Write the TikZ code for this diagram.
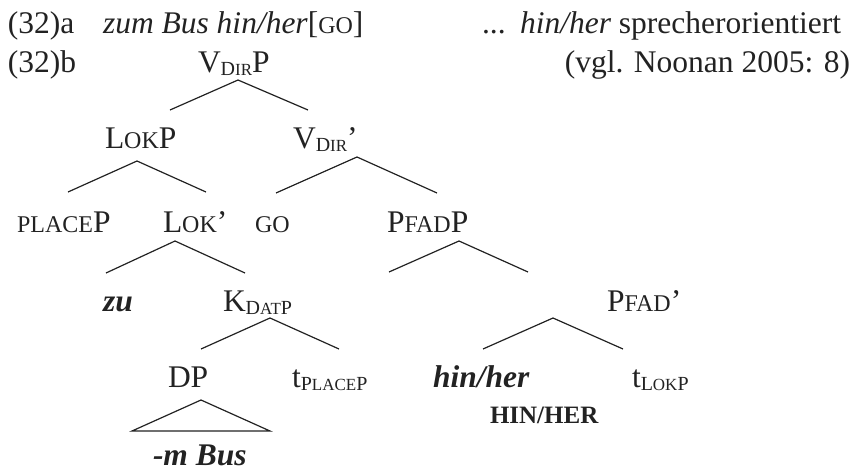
\documentclass[tikz,border=0pt]{standalone}
\usepackage{fontspec}
\setmainfont{Liberation Serif}
\usetikzlibrary{calc}
\definecolor{ink}{HTML}{222222}
% small capitals, faked with reduced capitals
\newcommand\smcap[1]{{\fontsize{24}{28}\selectfont #1}}
\newcommand\subbig[1]{{\fontsize{20}{23}\selectfont #1}}
\newcommand\subsmall[1]{{\fontsize{17}{20}\selectfont #1}}
\newcommand\lowered[1]{\raisebox{-3.5pt}{#1}}
\begin{document}
\begin{tikzpicture}[x=1pt,y=-1pt,
  lbl/.style={anchor=base west, inner sep=0pt, outer sep=0pt, text=ink,
    font=\fontsize{31.5}{36}\selectfont},
  branch/.style={draw=ink, line width=1.2pt, line join=miter}]
\useasboundingbox (0,0) rectangle (863,472);

% header lines
\node[lbl] (exa) at (8,33) {(32)a};
\node[lbl] (gloss) at (103,33) {\textit{zum Bus hin/her}[\smcap{GO}]};
\node[lbl] (dots) at (482,33) {...};
\node[lbl] (note) at (520,33) {\textit{hin/her} sprecherorientiert};
\node[lbl] (exb) at (8,72) {(32)b};
\node[lbl, anchor=base east] (src) at (850,72) {(vgl. Noonan 2005: 8)};

% tree labels
\node[lbl] (vdirp) at (198,72) {V\lowered{\subbig{D}\subsmall{IR}}P};
\node[lbl] (lokp) at (105,148) {L\smcap{OK}P};
\node[lbl] (vdirbar) at (293,148) {V\lowered{\subbig{D}\subsmall{IR}}’};
\node[lbl] (placep) at (17,232) {\smcap{PLACE}P};
\node[lbl] (lokbar) at (163,232) {L\smcap{OK}’};
\node[lbl] (go) at (255,232) {\smcap{GO}};
\node[lbl] (pfadp) at (387,232) {P\smcap{FAD}P};
\node[lbl] (zu) at (103,311) {\textbf{\textit{zu}}};
\node[lbl] (kdatp) at (223,311) {K\lowered{\subbig{D}\subsmall{AT}\subbig{P}}};
\node[lbl] (pfadbar) at (607,311) {P\smcap{FAD}’};
\node[lbl] (dp) at (168,387) {DP};
\node[lbl] (tplacep) at (292,387) {t\lowered{\subbig{P}\subsmall{LACE}\subbig{P}}};
\node[lbl] (hinher) at (433,387) {\textbf{\textit{hin/her}}};
\node[lbl] (tlokp) at (632,387) {t\lowered{\subbig{L}\subsmall{OK}\subbig{P}}};
\node[lbl, font=\fontsize{25}{30}\selectfont\bfseries] (hinherbig) at (490,423) {HIN/HER};
\node[lbl] (mbus) at (153,465) {\textbf{\textit{-m Bus}}};

% branching points
\coordinate (j1) at (238,80);
\coordinate (j2) at (137,161);
\coordinate (j3) at (357,157);
\coordinate (j4) at (175,241);
\coordinate (j5) at (459,241);
\coordinate (j6) at (270,318);
\coordinate (j7) at (553,318);
\coordinate (j8) at (201,400);

% branches
\draw[branch] ($(j1)+(-68,30)$) -- (j1) -- ($(j1)+(70,30)$);
\draw[branch] ($(j2)+(-69,31)$) -- (j2) -- ($(j2)+(69,31)$);
\draw[branch] ($(j3)+(-81,36)$) -- (j3) -- ($(j3)+(80,36)$);
\draw[branch] ($(j4)+(-69,32)$) -- (j4) -- ($(j4)+(70,32)$);
\draw[branch] ($(j5)+(-70,31)$) -- (j5) -- ($(j5)+(69,31)$);
\draw[branch] ($(j6)+(-69,31)$) -- (j6) -- ($(j6)+(69,31)$);
\draw[branch] ($(j7)+(-70,31)$) -- (j7) -- ($(j7)+(70,31)$);
% triangle over the DP
\draw[branch] (j8) -- ++(-69,31) -- ++(138,0) -- cycle;
\end{tikzpicture}
\end{document}
